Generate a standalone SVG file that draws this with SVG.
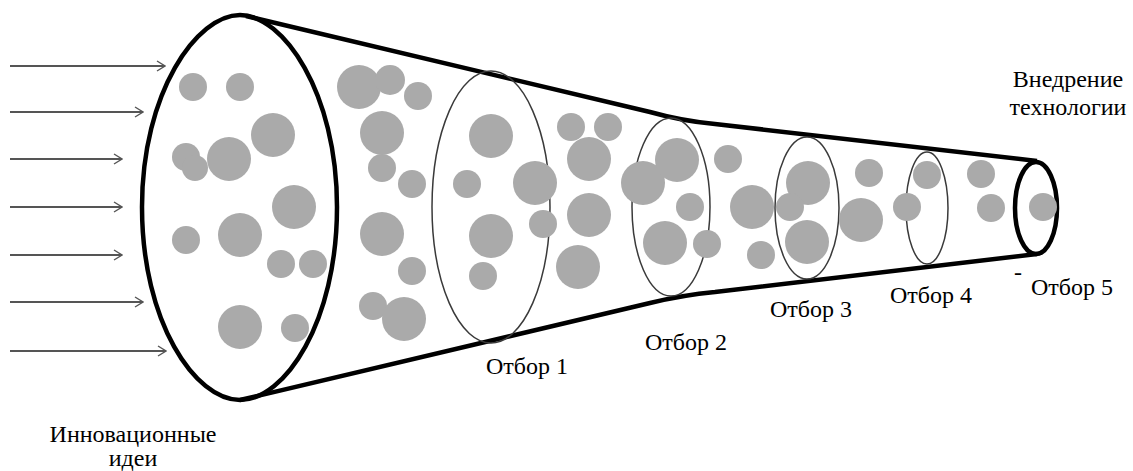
<svg xmlns="http://www.w3.org/2000/svg" width="1133" height="471" viewBox="0 0 1133 471">
  <defs>
    <marker id="chevron" viewBox="0 0 10 12" refX="9" refY="6" markerWidth="10" markerHeight="12" markerUnits="userSpaceOnUse" orient="auto">
      <path d="M1,1 L9,6 L1,11" fill="none" stroke="#555" stroke-width="1.4"/>
    </marker>
    <style>
      .idea { fill: #aaaaaa; }
      .funnel { fill: none; stroke: #000; stroke-width: 4.5; stroke-linejoin: round; }
      .stage { fill: none; stroke: #3a3a3a; stroke-width: 1.5; }
      .feed { stroke: #555; stroke-width: 1.8; fill: none; marker-end: url(#chevron); }
      .label { font-family: "Liberation Serif", "Times New Roman", serif; font-size: 24px; fill: #000; }
    </style>
  </defs>

  <rect width="1133" height="471" fill="#ffffff"/>

  <!-- incoming idea arrows -->
  <g id="connectors">
    <line class="feed" x1="10" y1="66" x2="165" y2="66"/>
    <line class="feed" x1="10" y1="112" x2="143" y2="112"/>
    <line class="feed" x1="10" y1="159" x2="122" y2="159"/>
    <line class="feed" x1="10" y1="207" x2="122" y2="207"/>
    <line class="feed" x1="10" y1="255" x2="122" y2="255"/>
    <line class="feed" x1="10" y1="302" x2="143" y2="302"/>
    <line class="feed" x1="10" y1="351" x2="166" y2="351"/>
  </g>

  <!-- funnel body -->
  <g id="funnel">
    <path class="funnel" d="M246,16 L650,112 Q682,121 715,124 L1037,161"/>
    <path class="funnel" d="M240,400 L650,303 Q683,295 715,292 L1037,254"/>
    <!-- wide mouth, slightly egg-shaped -->
    <path class="funnel" d="M240,15 C283,15 337,92 337,207 C337,322 285,400 240,400 C195,400 142,322 142,207 C142,92 197,15 240,15 Z"/>
    <ellipse class="funnel" cx="1036" cy="208" rx="21" ry="46"/>
  </g>

  <!-- selection stages -->
  <g id="stage1"><ellipse class="stage" cx="491" cy="207" rx="59" ry="136"/></g>
  <g id="stage2"><ellipse class="stage" cx="671" cy="207" rx="39" ry="89"/></g>
  <g id="stage3"><ellipse class="stage" cx="807" cy="208" rx="32" ry="71"/></g>
  <g id="stage4"><ellipse class="stage" cx="927" cy="208" rx="21" ry="56"/></g>

  <!-- ideas -->
  <g id="ideas">
    <!-- mouth -->
    <circle class="idea" cx="193" cy="87" r="14"/>
    <circle class="idea" cx="240" cy="87" r="14"/>
    <circle class="idea" cx="273" cy="135" r="22"/>
    <circle class="idea" cx="186" cy="157" r="14"/>
    <circle class="idea" cx="195" cy="168" r="13"/>
    <circle class="idea" cx="229" cy="159" r="22"/>
    <circle class="idea" cx="294" cy="207" r="22"/>
    <circle class="idea" cx="240" cy="235" r="22"/>
    <circle class="idea" cx="186" cy="240" r="14"/>
    <circle class="idea" cx="281" cy="264" r="14"/>
    <circle class="idea" cx="313" cy="264" r="14"/>
    <circle class="idea" cx="240" cy="327" r="22"/>
    <circle class="idea" cx="295" cy="328" r="14"/>
    <!-- before stage 1 -->
    <circle class="idea" cx="359" cy="87" r="22"/>
    <circle class="idea" cx="390" cy="80" r="15"/>
    <circle class="idea" cx="418" cy="96" r="14"/>
    <circle class="idea" cx="382" cy="133" r="22"/>
    <circle class="idea" cx="382" cy="168" r="14"/>
    <circle class="idea" cx="412" cy="184" r="14"/>
    <circle class="idea" cx="382" cy="234" r="22"/>
    <circle class="idea" cx="412" cy="271" r="14"/>
    <circle class="idea" cx="373" cy="306" r="14"/>
    <circle class="idea" cx="404" cy="319" r="22"/>
    <!-- stage 1 -->
    <circle class="idea" cx="491" cy="136" r="22"/>
    <circle class="idea" cx="467" cy="184" r="14"/>
    <circle class="idea" cx="535" cy="183" r="22"/>
    <circle class="idea" cx="491" cy="236" r="22"/>
    <circle class="idea" cx="543" cy="224" r="14"/>
    <circle class="idea" cx="483" cy="276" r="14"/>
    <!-- between 1 and 2 -->
    <circle class="idea" cx="571" cy="127" r="14"/>
    <circle class="idea" cx="608" cy="127" r="14"/>
    <circle class="idea" cx="589" cy="159" r="22"/>
    <circle class="idea" cx="589" cy="215" r="22"/>
    <circle class="idea" cx="578" cy="267" r="22"/>
    <!-- stage 2 -->
    <circle class="idea" cx="643" cy="183" r="22"/>
    <circle class="idea" cx="677" cy="160" r="22"/>
    <circle class="idea" cx="690" cy="207" r="14"/>
    <circle class="idea" cx="665" cy="243" r="22"/>
    <circle class="idea" cx="707" cy="244" r="14"/>
    <!-- between 2 and 3 -->
    <circle class="idea" cx="728" cy="159" r="14"/>
    <circle class="idea" cx="752" cy="207" r="22"/>
    <circle class="idea" cx="761" cy="255" r="14"/>
    <!-- stage 3 -->
    <circle class="idea" cx="808" cy="183" r="22"/>
    <circle class="idea" cx="790" cy="207" r="14"/>
    <circle class="idea" cx="807" cy="242" r="22"/>
    <!-- between 3 and 4 -->
    <circle class="idea" cx="869" cy="173" r="14"/>
    <circle class="idea" cx="861" cy="220" r="22"/>
    <!-- stage 4 -->
    <circle class="idea" cx="927" cy="175" r="14"/>
    <circle class="idea" cx="907" cy="207" r="14"/>
    <!-- before stage 5 -->
    <circle class="idea" cx="981" cy="174" r="14"/>
    <circle class="idea" cx="991" cy="208" r="14"/>
    <!-- stage 5 -->
    <circle class="idea" cx="1043" cy="207" r="14"/>
  </g>

  <!-- labels -->
  <g id="labels">
    <text class="label" x="133" y="442" text-anchor="middle">Инновационные</text>
    <text class="label" x="133" y="466" text-anchor="middle">идеи</text>
    <text class="label" x="527" y="374" text-anchor="middle">Отбор 1</text>
    <text class="label" x="686" y="350" text-anchor="middle">Отбор 2</text>
    <text class="label" x="811" y="317" text-anchor="middle">Отбор 3</text>
    <text class="label" x="931" y="303" text-anchor="middle">Отбор 4</text>
    <text class="label" x="1072" y="295" text-anchor="middle">Отбор 5</text>
    <text class="label" x="1018" y="280" text-anchor="middle" font-size="10">-</text>
    <text class="label" x="1068" y="87" text-anchor="middle">Внедрение</text>
    <text class="label" x="1068" y="115" text-anchor="middle">технологии</text>
  </g>
</svg>
